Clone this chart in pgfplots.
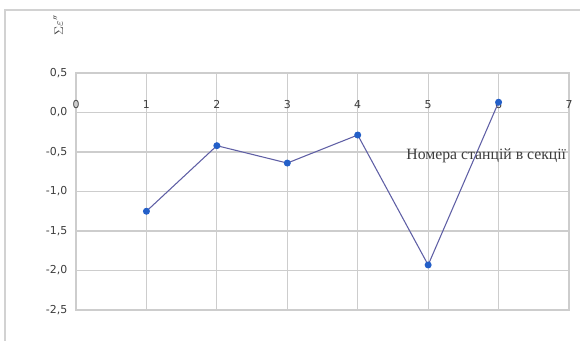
\documentclass[border=0pt]{standalone}
\usepackage{fontspec}
\setmainfont{DejaVu Sans}
\newfontfamily\serif{Liberation Serif}
\usepackage{pgfplots}
\pgfplotsset{compat=1.18}
\definecolor{gridc}{RGB}{205,205,205}
\definecolor{borderc}{RGB}{210,210,210}
\definecolor{linec}{RGB}{95,95,165}
\definecolor{markc}{RGB}{35,95,200}
\definecolor{tickc}{RGB}{60,60,60}
\begin{document}
\begin{tikzpicture}
\useasboundingbox (-57pt,-22.5pt) rectangle (378pt,232.5pt);
\draw[borderc, line width=1.2pt] (-53.25pt,-30pt) -- (-53.25pt,225pt) -- (385pt,225pt);
\begin{axis}[
  at={(0pt,0pt)}, anchor=south west,
  scale only axis, width=369.75pt, height=177.75pt,
  xmin=0, xmax=7, ymin=-2.5, ymax=0.5,
  xtick={0,1,2,3,4,5,6,7}, ytick={-2.5,-2,-1.5,-1,-0.5,0,0.5},
  grid=major, major grid style={gridc, line width=0.8pt},
  axis line style={gridc, line width=0.8pt},
  major tick length=0pt,
  /pgf/number format/assume math mode=true,
  /pgf/number format/use comma,
  yticklabel style={/pgf/number format/fixed, /pgf/number format/precision=1, /pgf/number format/fixed zerofill, font=\fontsize{8.2}{10}\selectfont, text=tickc, xshift=-3pt},
  xticklabel style={font=\fontsize{8.2}{10}\selectfont, text=tickc, anchor=south, yshift=147.5pt},
  clip=false,
]
\addplot[linec, line width=0.8pt, mark=*, mark size=2.2pt, mark options={fill=markc, draw=markc}] coordinates {
 (1,-1.25) (2,-0.42) (3,-0.64) (4,-0.285) (5,-1.93) (6,0.13)
};
\node[anchor=base east, font=\serif\fontsize{11.8}{13}\selectfont, text=tickc, inner sep=0pt] at (axis cs:7,-0.6) [xshift=-2pt] {Номера станцій в секції};
\end{axis}
\node[rotate=90, anchor=center, font=\serif\fontsize{9}{10}\selectfont, text=tickc, inner sep=0pt] at (-13.5pt,213.75pt) {$\Sigma\varepsilon''$};
\end{tikzpicture}
\end{document}
